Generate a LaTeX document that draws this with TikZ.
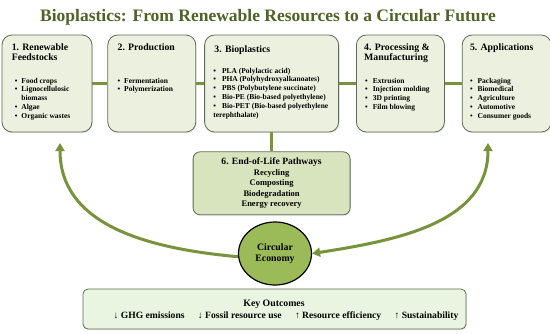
\documentclass[tikz,border=0pt]{standalone}
\usepackage{fontspec}
\setmainfont{Liberation Serif}
\usetikzlibrary{positioning, shapes.geometric, arrows.meta, shadows}

\definecolor{titlegreen}{HTML}{4F6228}
\definecolor{boxfill}{HTML}{EBF1DE}
\definecolor{boxline}{HTML}{5F6B55}
\definecolor{eolfill}{HTML}{D7E4BD}
\definecolor{ringfill}{HTML}{9BBB59}
\definecolor{linkgreen}{HTML}{77933C}
\definecolor{outfill}{HTML}{E9F5E1}

\begin{document}
\begin{tikzpicture}[x=1pt, y=-1pt, >={Triangle[length=8pt,width=9pt]},
  stage/.style={draw=boxline, line width=0.8pt, rounded corners=10pt, fill=boxfill, minimum height=97pt, inner sep=0pt, drop shadow={opacity=0.2, shadow xshift=0.8pt, shadow yshift=-1.2pt}},
  head/.style={anchor=north west, inner sep=0pt, align=left, font=\fontsize{9.8}{10.8}\selectfont\bfseries},
  items/.style={anchor=base west, inner sep=0pt, font=\fontsize{7.5}{8.8}\selectfont\bfseries},
  link/.style={draw=linkgreen, line width=3.5pt},
  cycleflow/.style={draw=linkgreen, line width=3pt}]
  \useasboundingbox (0,0) rectangle (550,333);

  % title
  \node[anchor=base, inner sep=0pt, text=titlegreen, font=\fontsize{17.5}{20}\selectfont\bfseries] (title) at (268,21.7) {Bioplastics: From Renewable Resources to a Circular Future};

  % stages
  \node[stage, minimum width=90pt] (feed) at (47,83.5) {};
  \node[stage, minimum width=88pt, right=15pt of feed] (prod) {};
  \node[stage, minimum width=134pt, right=8pt of prod] (bio) {};
  \node[stage, minimum width=88pt, right=17pt of bio] (proc) {};
  \node[stage, minimum width=89pt, right=17pt of proc] (app) {};

  \node[head] (feedhead) at ([shift={(10,8.5)}]feed.north west) {1. Renewable\\Feedstocks};
  \node[head] (prodhead) at ([shift={(10,8.5)}]prod.north west) {2. Production};
  \node[head] (biohead) at ([shift={(10,10.5)}]bio.north west) {3. Bioplastics};
  \node[head] (prochead) at ([shift={(8,8.5)}]proc.north west) {4. Processing \&\\Manufacturing};
  \node[head] (apphead) at ([shift={(8,8.5)}]app.north west) {5. Applications};

  \node[items] (feeditems) at ([shift={(13,48.5)}]feed.north west) {\begin{tabular}[t]{@{}l@{\hspace{4pt}}l@{}}
    \textbullet & Food crops\\ \textbullet & Lignocellulosic\\ & biomass\\ \textbullet & Algae\\ \textbullet & Organic wastes\end{tabular}};
  \node[items] (proditems) at ([shift={(10,48.5)}]prod.north west) {\begin{tabular}[t]{@{}l@{\hspace{4pt}}l@{}}
    \textbullet & Fermentation\\ \textbullet & Polymerization\end{tabular}};
  \node[items] (bioitems) at ([shift={(9,38.5)}]bio.north west) {\begin{tabular}[t]{@{}l@{\hspace{6pt}}l@{}}
    \textbullet & PLA (Polylactic acid)\\ \textbullet & PHA (Polyhydroxyalkanoates)\\ \textbullet & PBS (Polybutylene succinate)\\
    \textbullet & Bio-PE (Bio-based polyethylene)\\ \textbullet & Bio-PET (Bio-based polyethylene\\ \multicolumn{2}{@{}l@{}}{terephthalate)}\end{tabular}};
  \node[items] (procitems) at ([shift={(9,48.5)}]proc.north west) {\begin{tabular}[t]{@{}l@{\hspace{5pt}}l@{}}
    \textbullet & Extrusion\\ \textbullet & Injection molding\\ \textbullet & 3D printing\\ \textbullet & Film blowing\end{tabular}};
  \node[items] (appitems) at ([shift={(8,48.5)}]app.north west) {\begin{tabular}[t]{@{}l@{\hspace{5pt}}l@{}}
    \textbullet & Packaging\\ \textbullet & Biomedical\\ \textbullet & Agriculture\\ \textbullet & Automotive\\ \textbullet & Consumer goods\end{tabular}};

  % end of life
  \node[draw=boxline, line width=0.8pt, fill=eolfill, rounded corners=7pt, minimum width=157pt, minimum height=63pt, inner sep=0pt, below=19pt of bio, align=center, font=\fontsize{8.5}{10.5}\selectfont\bfseries, drop shadow={opacity=0.2, shadow xshift=0.8pt, shadow yshift=-1.2pt}] (eol)
    {{\fontsize{9.6}{10.5}\selectfont 6. End-of-Life Pathways}\\Recycling\\Composting\\Biodegradation\\Energy recovery};

  \draw[link] (feed) -- (prod);
  \draw[link] (prod) -- (bio);
  \draw[link] (bio) -- (proc);
  \draw[link] (proc) -- (app);
  \draw[link] (bio) -- (eol);

  % circular economy
  \node[ellipse, draw=black, line width=1.2pt, fill=ringfill, minimum width=73pt, minimum height=63pt, inner sep=0pt, align=center, font=\fontsize{9.8}{11.5}\selectfont\bfseries] (ring) at (275,253.5) {Circular\\Economy};

  \coordinate (feedin) at (60,143);
  \coordinate (appin) at (488,143);
  \draw[cycleflow, ->] (ring.185) .. controls (140,248) and (60,222) .. (feedin);
  \draw[cycleflow, <->] (ring.east) .. controls (400,240) and (488,222) .. (appin);

  % outcomes
  \node[draw=boxline, line width=0.8pt, fill=outfill, rounded corners=5pt, minimum width=383pt, minimum height=40pt, drop shadow={opacity=0.2, shadow xshift=0.8pt, shadow yshift=-1.2pt}] (out) at (274.5,309) {};
  \node[anchor=base, inner sep=0pt, font=\fontsize{9.8}{11}\selectfont\bfseries] (outhead) at (274,306.5) {Key Outcomes};
  \node[anchor=base, inner sep=0pt, font=\fontsize{9.6}{11}\selectfont\bfseries] (outlist) at (286,318.5)
    {↓ GHG emissions\hspace{11pt} ↓ Fossil resource use\hspace{11pt} ↑ Resource efficiency\hspace{11pt} ↑ Sustainability};
\end{tikzpicture}
\end{document}
